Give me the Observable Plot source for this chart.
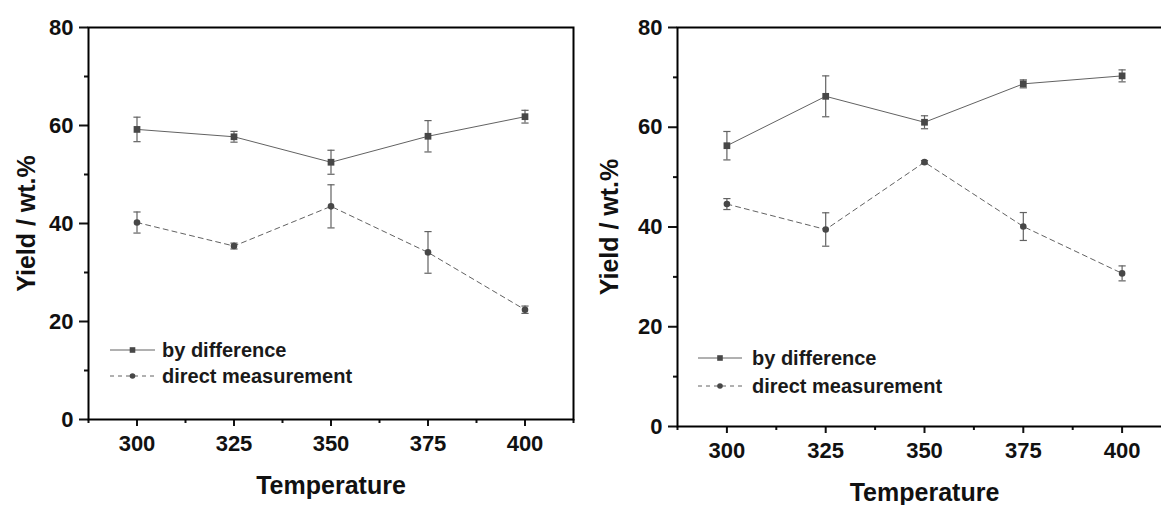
<!DOCTYPE html>
<html><head><meta charset="utf-8">
<script src="https://cdn.jsdelivr.net/npm/d3@7"></script>
<script src="https://cdn.jsdelivr.net/npm/@observablehq/plot@0.6"></script>
<style>
html,body{margin:0;padding:0;background:#fff;overflow:hidden;width:1161px;height:505px}
#wrap{position:relative;width:1161px;height:505px;overflow:hidden;background:#fff}
.panel{position:absolute;top:0}
#legend{position:absolute;left:0;top:0;pointer-events:none}
</style></head><body><div id="wrap"></div>
<script>
// ---- data ----
const temperatures = [300, 325, 350, 375, 400];
const seriesNames = ["by difference", "direct measurement"];

const leftDiff       = [59.2, 57.7, 52.5, 57.8, 61.8];
const leftDiffErr    = [2.5, 1.1, 2.45, 3.2, 1.3];
const leftDirect     = [40.2, 35.4, 43.5, 34.1, 22.4];
const leftDirectErr  = [2.15, 0.6, 4.4, 4.25, 0.75];

const rightDiff      = [56.3, 66.2, 61.0, 68.7, 70.3];
const rightDiffErr   = [2.85, 4.1, 1.3, 0.8, 1.2];
const rightDirect    = [44.6, 39.5, 53.0, 40.1, 30.7];
const rightDirectErr = [1.1, 3.35, 0.3, 2.8, 1.5];

const xTicks = [300, 325, 350, 375, 400];
const xMinorTicks = [287.5, 312.5, 337.5, 362.5, 387.5, 412.5];
const xDomain = [287.5, 412.5];
const yTicks = [0, 20, 40, 60, 80];
const yMinorTicks = [10, 30, 50, 70];
const yDomain = [0, 80];
const xTitle = "Temperature";
const yTitle = "Yield / wt.%";

// ---- styling ----
const FONT = "'Liberation Sans', Arial, Helvetica, sans-serif";
const LINE = "#626262";
const MARK = "#474747";
const capSymbol = {draw(ctx) { const w = 3.6; ctx.moveTo(-w, 0); ctx.lineTo(w, 0); }};

function rowsFor(diff, diffErr, direct, directErr) {
  const a = temperatures.map((t, i) => ({t, v: diff[i], e: diffErr[i], s: seriesNames[0]}));
  const b = temperatures.map((t, i) => ({t, v: direct[i], e: directErr[i], s: seriesNames[1]}));
  return [a, b];
}

function panel({diff, diffErr, direct, directErr, width, ml, mr, mb, yTitleDx}) {
  const [a, b] = rowsFor(diff, diffErr, direct, directErr);
  const all = a.concat(b);
  return Plot.plot({
    width, height: 505,
    marginLeft: ml, marginRight: mr, marginTop: 27, marginBottom: mb,
    style: {fontFamily: FONT, background: "transparent", overflow: "visible"},
    x: {domain: xDomain},
    y: {domain: yDomain},
    marks: [
      Plot.axisY(yTicks, {tickSize: 9, tickPadding: 6, strokeWidth: 2, color: "#111", fontSize: 22, fontWeight: "bold", label: null}),
      Plot.axisY(yMinorTicks, {tickSize: 4, strokeWidth: 2, color: "#111", text: null, label: null}),
      Plot.axisX(xTicks, {tickSize: 7, tickPadding: 9, strokeWidth: 2, color: "#111", fontSize: 22, fontWeight: "bold", label: null}),
      Plot.axisX(xMinorTicks, {tickSize: 4, strokeWidth: 2, color: "#111", text: null, label: null}),
      Plot.frame({stroke: "#000", strokeWidth: 2}),
      Plot.ruleX(all, {x: "t", y1: d => d.v - d.e, y2: d => d.v + d.e, stroke: LINE, strokeWidth: 1.2}),
      Plot.dot(all, {x: "t", y: d => d.v - d.e, symbol: capSymbol, stroke: LINE, strokeWidth: 1.2, r: 3}),
      Plot.dot(all, {x: "t", y: d => d.v + d.e, symbol: capSymbol, stroke: LINE, strokeWidth: 1.2, r: 3}),
      Plot.line(a, {x: "t", y: "v", stroke: LINE, strokeWidth: 1}),
      Plot.line(b, {x: "t", y: "v", stroke: LINE, strokeWidth: 1, strokeDasharray: "5,4"}),
      Plot.dot(a, {x: "t", y: "v", symbol: "square", r: 3.8, fill: MARK, stroke: "none"}),
      Plot.dot(b, {x: "t", y: "v", symbol: "circle", r: 3.3, fill: MARK, stroke: "none"}),
      Plot.text([xTitle], {text: d => d, frameAnchor: "bottom", dy: 74, lineAnchor: "bottom", textAnchor: "middle", fontSize: 25, fontWeight: "bold", fill: "#111"}),
      Plot.text([yTitle], {text: d => d, frameAnchor: "left", rotate: -90, dx: yTitleDx, lineAnchor: "bottom", textAnchor: "middle", fontSize: 25, fontWeight: "bold", fill: "#111"})
    ]
  });
}

const wrap = document.getElementById("wrap");

const left = panel({diff: leftDiff, diffErr: leftDiffErr, direct: leftDirect, directErr: leftDirectErr,
  width: 580, ml: 88, mr: 7, mb: 86, yTitleDx: -54});
left.classList.add("panel"); left.style.left = "0px";
wrap.appendChild(left);

const right = panel({diff: rightDiff, diffErr: rightDiffErr, direct: rightDirect, directErr: rightDirectErr,
  width: 600, ml: 97, mr: 9, mb: 79, yTitleDx: -60});
right.classList.add("panel"); right.style.left = "580px";
wrap.appendChild(right);

// ---- legends (overlay) ----
const legendLayouts = [
  {x0: 110, x1: 155, tx: 162, rows: [350, 376], base: 7},
  {x0: 698, x1: 742, tx: 752, rows: [358, 386], base: 7}
];
const svg = d3.select(wrap).append("svg").attr("id", "legend").attr("width", 1161).attr("height", 505);
legendLayouts.forEach(L => {
  seriesNames.forEach((name, i) => {
    const y = L.rows[i];
    const g = svg.append("g");
    g.append("line").attr("x1", L.x0).attr("x2", L.x1).attr("y1", y).attr("y2", y)
      .attr("stroke", LINE).attr("stroke-width", 1).attr("stroke-dasharray", i ? "4,4" : null);
    const cx = (L.x0 + L.x1) / 2;
    if (i === 0) g.append("rect").attr("x", cx - 2.8).attr("y", y - 2.8).attr("width", 5.6).attr("height", 5.6).attr("fill", MARK);
    else g.append("circle").attr("cx", cx).attr("cy", y).attr("r", 2.8).attr("fill", MARK);
    g.append("text").attr("x", L.tx).attr("y", y + L.base).text(name)
      .attr("font-family", FONT).attr("font-weight", "bold").attr("font-size", 20).attr("fill", "#1a1a1a");
  });
});
</script></body></html>
